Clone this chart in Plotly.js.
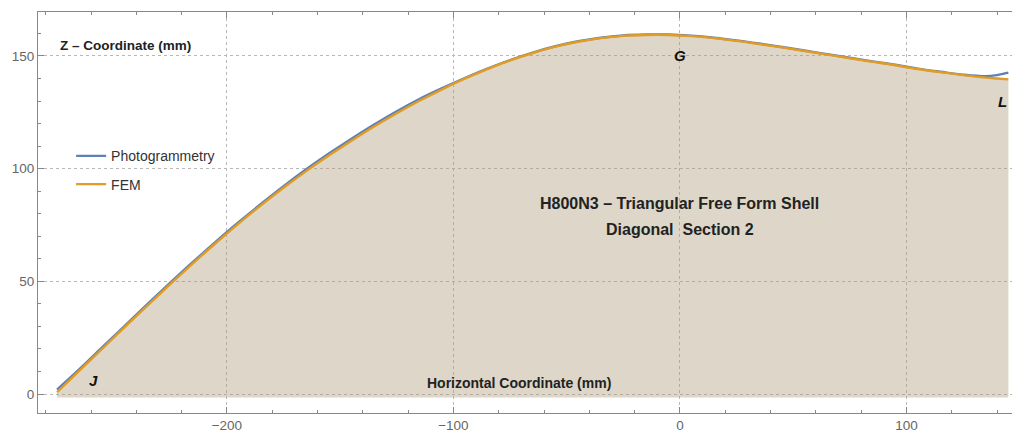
<!DOCTYPE html>
<html>
<head>
<meta charset="utf-8">
<script src="https://cdn.plot.ly/plotly-3.0.1.min.js"></script>
<style>html,body{margin:0;padding:0;background:#fff;}#chart{width:1017px;height:434px;}</style>
</head>
<body>
<div id="chart"></div>
<script>
// Horizontal coordinate (mm)
const sectionX = [-275,-265,-255,-245,-235,-225,-215,-205,-195,-185,-175,-165,-155,-145,-135,-125,-115,-105,-95,-85,-75,-65,-55,-45,-35,-25,-15,-5,5,15,25,35,45,55,65,75,85,95,105,115,125,135,140,145];
// FEM (orange)
const femY = [0.8,10.5,20.2,29.8,39.4,48.8,58,66.9,75.5,83.7,91.5,98.9,105.8,112.4,118.7,124.6,130.1,135.2,139.9,144.2,148,151.3,154.1,156.3,157.9,158.9,159.3,159.3,158.8,157.9,156.7,155.3,153.8,152.2,150.6,149,147.4,145.9,144.2,142.8,141.5,140.4,140,139.6];
// Photogrammetry (blue)
const photoY = [2.0,11.2,20.8,30.4,40,49.4,58.6,67.5,76.1,84.3,92.2,99.7,106.7,113.3,119.6,125.5,130.9,135.7,140.2,144.4,148.2,151.5,154.3,156.5,158.1,159.1,159.5,159.5,159,158.1,156.9,155.5,154,152.4,150.8,149.2,147.6,146.1,144.4,143,141.7,141,141.5,142.6];
const fillBase = -1.5;
const seriesNames = ["Photogrammetry","FEM"];
const pointLabels = [
  {text:"J", x:-259, y:6},
  {text:"G", x:0, y:150},
  {text:"L", x:142.5, y:130}
];
const titleLines = ["H800N3 \u2013 Triangular Free Form Shell","Diagonal  Section 2"];

const traces = [
  {x:[sectionX[0], sectionX[sectionX.length-1]], y:[fillBase, fillBase], mode:'lines', line:{width:0, color:'rgba(0,0,0,0)'}, showlegend:false, hoverinfo:'skip', legendgroup:'a'},
  {x:sectionX, y:femY, mode:'lines', line:{width:0, shape:'spline', color:'rgba(0,0,0,0)'}, fill:'tonexty', fillcolor:'rgba(172,152,118,0.40)', showlegend:false, hoverinfo:'skip', legendgroup:'a'},
  {x:sectionX, y:photoY, mode:'lines', name:seriesNames[0], legendgroup:'p', line:{color:'#5E81B5', width:2.4, shape:'spline'}},
  {x:sectionX, y:femY, mode:'lines', name:seriesNames[1], legendgroup:'f', line:{color:'#E19C24', width:2.4, shape:'spline'}}
];

const annFont = {family:'Liberation Sans, Arial, sans-serif', color:'#222'};
const annotations = [];
pointLabels.forEach(p => annotations.push({x:p.x, y:p.y, xref:'x', yref:'y', text:'<b><i>'+p.text+'</i></b>', showarrow:false, font:{family:annFont.family, size:15, color:'#111'}}));
annotations.push({x:0, y:84.7, xref:'x', yref:'y', text:'<b>'+titleLines[0]+'</b>', showarrow:false, font:{family:annFont.family, size:16, color:annFont.color}});
annotations.push({x:0, y:73, xref:'x', yref:'y', text:'<b>'+titleLines[1]+'</b>', showarrow:false, font:{family:annFont.family, size:16, color:annFont.color}});
annotations.push({x:-274.5, y:154.5, xref:'x', yref:'y', xanchor:'left', text:'<b>Z \u2013 Coordinate (mm)</b>', showarrow:false, font:{family:annFont.family, size:13.5, color:annFont.color}});
annotations.push({x:-71, y:5, xref:'x', yref:'y', text:'<b>Horizontal Coordinate (mm)</b>', showarrow:false, font:{family:annFont.family, size:14, color:annFont.color}});

const layout = {
  width:1017, height:434,
  margin:{l:38, r:5, t:12, b:21},
  paper_bgcolor:'#fff', plot_bgcolor:'#fff',
  font:{family:'Liberation Sans, Arial, sans-serif', size:12, color:'#666'},
  showlegend:true,
  legend:{x:0.034, y:0.68, xanchor:'left', yanchor:'top', bgcolor:'rgba(0,0,0,0)', font:{size:14, color:'#333'}, itemwidth:30, traceorder:'grouped', tracegroupgap:7},
  xaxis:{
    range:[-283.4, 146.6], tickvals:[-200,-100,0,100], showgrid:true, gridcolor:'#b8b8b8', griddash:'dot', gridwidth:1,
    zeroline:false, showline:true, linecolor:'#888', linewidth:1, mirror:'ticks',
    ticks:'inside', ticklen:6, tickcolor:'#888',
    minor:{dtick:20, tick0:0, ticks:'inside', ticklen:3, tickcolor:'#888', showgrid:false},
    tickfont:{size:13.5, color:'#666'}
  },
  yaxis:{
    range:[-8.4, 169.5], tickvals:[0,50,100,150], showgrid:true, gridcolor:'#b8b8b8', griddash:'dot', gridwidth:1,
    zeroline:false, showline:true, linecolor:'#888', linewidth:1, mirror:false,
    ticks:'inside', ticklen:6, tickcolor:'#888',
    minor:{dtick:10, tick0:0, ticks:'inside', ticklen:3, tickcolor:'#888', showgrid:false},
    tickfont:{size:13.5, color:'#666'}
  },
  annotations:annotations
};
Plotly.newPlot('chart', traces, layout, {displayModeBar:false, staticPlot:true});
</script>
</body>
</html>
